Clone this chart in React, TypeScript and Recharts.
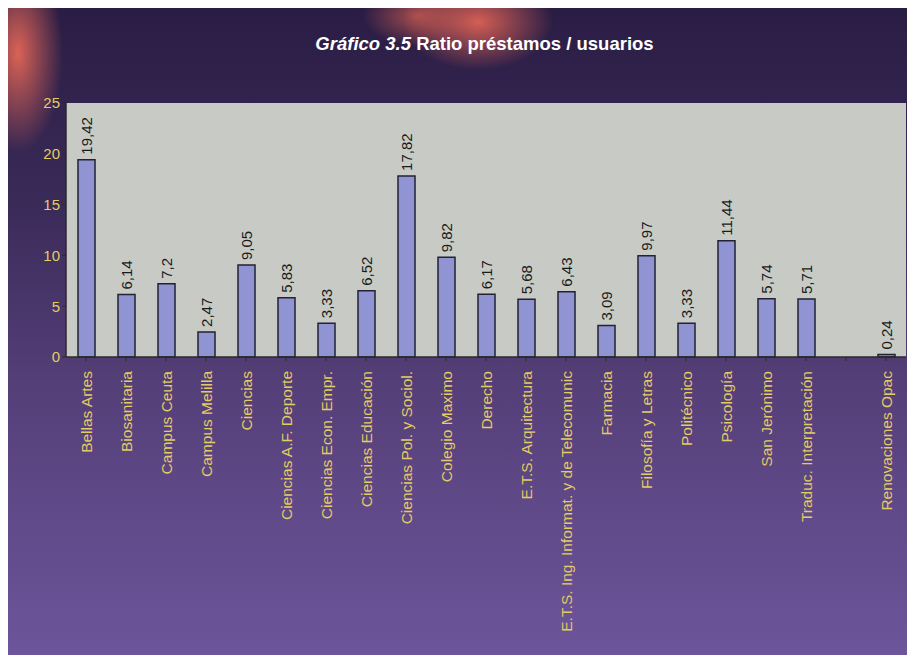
import { BarChart, Bar, XAxis, YAxis, CartesianGrid, LabelList } from 'recharts';

const categories = [
  'Bellas Artes', 'Biosanitaria', 'Campus Ceuta', 'Campus Melilla', 'Ciencias',
  'Ciencias A.F. Deporte', 'Ciencias Econ. Empr.', 'Ciencias Educación', 'Ciencias Pol. y Sociol.',
  'Colegio Maximo', 'Derecho', 'E.T.S. Arquitectura', 'E.T.S. Ing. Informat. y de Telecomunic',
  'Farmacia', 'Filosofía y Letras', 'Politécnico', 'Psicología', 'San Jerónimo',
  'Traduc. Interpretación', '', 'Renovaciones Opac',
];
const ratios = [
  19.42, 6.14, 7.2, 2.47, 9.05, 5.83, 3.33, 6.52, 17.82, 9.82, 6.17, 5.68, 6.43,
  3.09, 9.97, 3.33, 11.44, 5.74, 5.71, null, 0.24,
];
const yTicks = [0, 5, 10, 15, 20, 25];

const data = categories.map((name, i) => ({ name, ratio: ratios[i] }));

const YELLOW = '#e2cc64';
const FONT = '"Liberation Sans", Arial, sans-serif';

function CategoryTick({ x, y, payload }: any) {
  return (
    <text
      x={x}
      y={y + 8}
      transform={`rotate(-90, ${x}, ${y + 8})`}
      textAnchor="end"
      dominantBaseline="central"
      fill={YELLOW}
      fontSize={15.5}
      fontFamily={FONT}
    >
      {payload.value}
    </text>
  );
}

function ValueLabel({ x, y, width, value }: any) {
  if (value == null) return null;
  const cx = x + width / 2;
  const ty = y - 5;
  return (
    <text
      x={cx}
      y={ty}
      transform={`rotate(-90, ${cx}, ${ty})`}
      textAnchor="start"
      dominantBaseline="central"
      fill="#1a1a1a"
      fontSize={15}
      fontFamily={FONT}
    >
      {String(value).replace('.', ',')}
    </text>
  );
}

export default function App() {
  return (
    <div
      style={{
        position: 'relative',
        width: 905,
        height: 647,
        background:
          'radial-gradient(ellipse 45px 100px at 10px 45px, rgba(228,102,86,0.95), rgba(228,102,86,0) 100%),' +
          'radial-gradient(ellipse 75px 48px at 470px 14px, rgba(222,98,84,0.95), rgba(222,98,84,0) 100%),' +
          'radial-gradient(ellipse 55px 30px at 410px 8px, rgba(205,92,80,0.75), rgba(205,92,80,0) 100%),' +
          'linear-gradient(180deg, #2a1d44 0%, #3a2a58 30%, #56407a 60%, #6c559a 100%)',
        fontFamily: FONT,
      }}
    >
      <div
        style={{
          position: 'absolute',
          top: 25,
          left: 24,
          width: '100%',
          textAlign: 'center',
          color: '#ffffff',
          fontSize: 18.5,
          fontWeight: 'bold',
        }}
      >
        <i>Gráfico 3.5</i> Ratio préstamos / usuarios
      </div>
      <BarChart
        width={905}
        height={647}
        data={data}
        margin={{ top: 95, right: 7, bottom: 0, left: 0 }}
        barCategoryGap={0}
        style={{ position: 'absolute', top: 0, left: 0 }}
      >
        <CartesianGrid horizontal={false} vertical={false} fill="#c8cbc5" stroke="none" />
        <XAxis
          dataKey="name"
          interval={0}
          height={298}
          tick={<CategoryTick />}
          axisLine={{ stroke: '#2a2a2a', strokeWidth: 1.5 }}
          tickLine={{ stroke: '#2a2a2a' }}
          tickSize={4}
        />
        <YAxis
          domain={[0, 25]}
          ticks={yTicks}
          width={58}
          tick={{ fill: YELLOW, fontSize: 15, fontFamily: FONT }}
          axisLine={{ stroke: '#2a2a2a', strokeWidth: 1.5 }}
          tickLine={{ stroke: '#2a2a2a' }}
          tickSize={4}
        />
        <Bar dataKey="ratio" fill="#9094d2" stroke="#222233" strokeWidth={1.5} barSize={17} isAnimationActive={false}>
          <LabelList dataKey="ratio" content={<ValueLabel />} />
        </Bar>
      </BarChart>
    </div>
  );
}
